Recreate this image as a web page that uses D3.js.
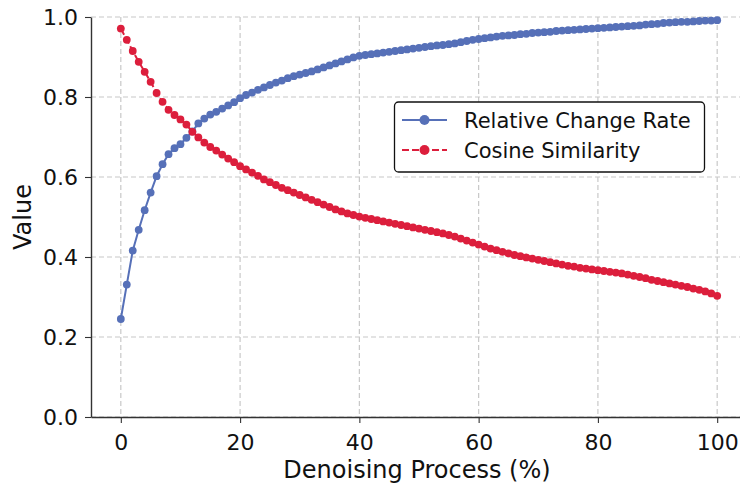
<!DOCTYPE html>
<html>
<head>
<meta charset="utf-8">
<script src="https://cdn.jsdelivr.net/npm/d3@7"></script>
<style>
  html, body { margin: 0; padding: 0; background: #ffffff; }
  svg { display: block; font-family: "DejaVu Sans", sans-serif; }
</style>
</head>
<body>
<svg id="chart" width="740" height="483"></svg>
<script>
// ---- data ----
const progress = d3.range(0, 101); // 0..100 (%)
const relativeChangeRate = [
  0.245, 0.331, 0.416, 0.468, 0.517, 0.561, 0.602, 0.632, 0.657, 0.672,
  0.682, 0.698, 0.714, 0.734, 0.746, 0.756, 0.763, 0.771, 0.779, 0.787,
  0.797, 0.805, 0.811, 0.818, 0.824, 0.830, 0.836, 0.841, 0.847, 0.852,
  0.856, 0.860, 0.864, 0.869, 0.874, 0.879, 0.884, 0.889, 0.894, 0.899,
  0.903, 0.905, 0.907, 0.909, 0.911, 0.913, 0.915, 0.917, 0.919, 0.921,
  0.923, 0.925, 0.927, 0.929, 0.930, 0.932, 0.934, 0.937, 0.940, 0.943,
  0.945, 0.947, 0.949, 0.951, 0.953, 0.954, 0.955, 0.957, 0.958, 0.960,
  0.961, 0.962, 0.963, 0.965, 0.966, 0.967, 0.968, 0.969, 0.970, 0.971,
  0.972, 0.973, 0.974, 0.975, 0.976, 0.977, 0.978, 0.979, 0.981, 0.982,
  0.983, 0.985, 0.986, 0.987, 0.988, 0.988, 0.989, 0.990, 0.991, 0.991,
  0.992
];
const cosineSimilarity = [
  0.971, 0.943, 0.915, 0.888, 0.863, 0.838, 0.810, 0.788, 0.768, 0.755,
  0.744, 0.731, 0.713, 0.699, 0.686, 0.675, 0.666, 0.656, 0.646, 0.637,
  0.627, 0.619, 0.611, 0.603, 0.594, 0.587, 0.580, 0.573, 0.567, 0.561,
  0.555, 0.549, 0.543, 0.537, 0.531, 0.525, 0.519, 0.514, 0.509, 0.505,
  0.501, 0.498, 0.495, 0.492, 0.489, 0.486, 0.483, 0.480, 0.477, 0.474,
  0.471, 0.468, 0.465, 0.462, 0.459, 0.455, 0.451, 0.446, 0.441, 0.436,
  0.431, 0.426, 0.421, 0.417, 0.413, 0.409, 0.405, 0.402, 0.399, 0.396,
  0.393, 0.390, 0.387, 0.384, 0.381, 0.378, 0.376, 0.373, 0.371, 0.369,
  0.367, 0.365, 0.363, 0.361, 0.359, 0.356, 0.353, 0.350, 0.347, 0.343,
  0.340, 0.337, 0.334, 0.331, 0.328, 0.325, 0.321, 0.318, 0.314, 0.309,
  0.303
];
const xTicks = [0, 20, 40, 60, 80, 100];
const yTicks = [0.0, 0.2, 0.4, 0.6, 0.8, 1.0];
const seriesNames = ["Relative Change Rate", "Cosine Similarity"];
const xLabel = "Denoising Process (%)";
const yLabel = "Value";

// ---- layout ----
const svg = d3.select("#chart");
const pL = 91, pR = 747, pT = 17, pB = 417;
const x = d3.scaleLinear().domain([-5, 105]).range([pL, pR]);
const y = d3.scaleLinear().domain([0, 1]).range([pB, pT]);

const blue = "#5670b8";
const red = "#dc1e3c";

// grid
const grid = svg.append("g");
grid.selectAll("line.gx").data(xTicks).enter().append("line")
  .attr("x1", d => x(d)).attr("x2", d => x(d))
  .attr("y1", pT).attr("y2", pB)
  .attr("stroke", "#c8c8c8").attr("stroke-width", 1.2)
  .attr("stroke-dasharray", "5,3");
grid.selectAll("line.gy").data(yTicks).enter().append("line")
  .attr("x1", pL).attr("x2", pR)
  .attr("y1", d => y(d)).attr("y2", d => y(d))
  .attr("stroke", "#c8c8c8").attr("stroke-width", 1.2)
  .attr("stroke-dasharray", "5,3");

// axes
const xAxis = svg.append("g").attr("transform", `translate(0,${pB})`)
  .call(d3.axisBottom(x).tickValues(xTicks).tickFormat(d3.format("d")).tickSize(6).tickSizeOuter(0));
const yAxis = svg.append("g").attr("transform", `translate(${pL},0)`)
  .call(d3.axisLeft(y).tickValues(yTicks).tickFormat(d3.format(".1f")).tickSize(6).tickPadding(7).tickSizeOuter(0));

[xAxis, yAxis].forEach(g => {
  g.select(".domain").attr("stroke", "#333").attr("stroke-width", 1.4);
  g.selectAll(".tick line").attr("stroke", "#333").attr("stroke-width", 1.1);
  g.selectAll(".tick text").attr("fill", "#111").style("font-size", "22px")
    .style("font-family", "DejaVu Sans");
});
xAxis.selectAll(".tick text").attr("y", 33).attr("dy", null);

// axis labels
svg.append("text")
  .attr("x", 417).attr("y", 478)
  .attr("text-anchor", "middle")
  .style("font-size", "24px").attr("fill", "#111")
  .text(xLabel);
svg.append("text")
  .attr("transform", `translate(31,${(pT + pB) / 2}) rotate(-90)`)
  .attr("text-anchor", "middle")
  .style("font-size", "24px").attr("fill", "#111")
  .text(yLabel);

// series
const series = [
  { name: seriesNames[0], values: relativeChangeRate, color: blue, dash: null },
  { name: seriesNames[1], values: cosineSimilarity, color: red, dash: "7,3" }
];
const line = d3.line().x((d, i) => x(progress[i])).y(d => y(d));

series.forEach(s => {
  const g = svg.append("g");
  g.append("path").datum(s.values)
    .attr("d", line).attr("fill", "none")
    .attr("stroke", s.color).attr("stroke-width", 2)
    .attr("stroke-dasharray", s.dash);
  g.selectAll("circle").data(s.values).enter().append("circle")
    .attr("cx", (d, i) => x(progress[i])).attr("cy", d => y(d))
    .attr("r", 3.9).attr("fill", s.color);
});

// legend
const lg = svg.append("g");
lg.append("rect")
  .attr("x", 394.5).attr("y", 102).attr("width", 310).attr("height", 70)
  .attr("rx", 4).attr("fill", "#fff").attr("stroke", "#111").attr("stroke-width", 1.3);
series.forEach((s, i) => {
  const cy = 120 + i * 30;
  lg.append("line").attr("x1", 402).attr("x2", 447).attr("y1", cy).attr("y2", cy)
    .attr("stroke", s.color).attr("stroke-width", 2).attr("stroke-dasharray", s.dash);
  lg.append("circle").attr("cx", 424.5).attr("cy", cy).attr("r", 5).attr("fill", s.color);
  lg.append("text").attr("x", 464).attr("y", cy).attr("dy", "0.36em")
    .style("font-size", "21px").attr("fill", "#111").text(s.name);
});
</script>
</body>
</html>
